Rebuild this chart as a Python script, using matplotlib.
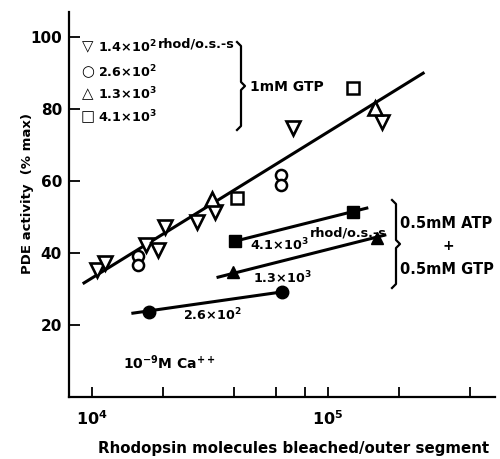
import matplotlib.pyplot as plt
import numpy as np

plt.rcParams['font.family'] = ['DejaVu Sans']
plt.rcParams['font.weight'] = 'bold'
plt.rcParams['mathtext.default'] = 'regular'

# 1mM GTP series (open symbols)
tri_down_x = [1.05e4, 1.135e4, 1.69e4, 1.9e4, 2.04e4, 2.79e4, 3.32e4, 7.1e4, 1.69e5]
tri_down_y = [35.3, 37.2, 42.2, 40.8, 47.2, 48.6, 51.4, 74.7, 76.4]
circle_x = [1.56e4, 1.56e4, 6.3e4, 6.3e4]
circle_y = [39.2, 36.7, 61.7, 58.9]
tri_up_x = [3.22e4, 1.58e5]
tri_up_y = [55.0, 80.3]
square_x = [4.11e4, 1.28e5]
square_y = [55.3, 85.8]
gtp_fit_x = [9.25e3, 2.53e5]
gtp_fit_y = [31.7, 90.0]

# 0.5mM ATP + 0.5mM GTP series (filled symbols)
f_square_x = [4.04e4, 1.28e5]
f_square_y = [43.3, 51.4]
f_square_fit_x = [3.92e4, 1.46e5]
f_square_fit_y = [43.1, 52.5]
f_tri_x = [3.95e4, 1.61e5]
f_tri_y = [34.7, 44.2]
f_tri_fit_x = [3.42e4, 1.74e5]
f_tri_fit_y = [33.3, 45.0]
f_circ_x = [1.75e4, 6.38e4]
f_circ_y = [23.5, 29.2]
f_circ_fit_x = [1.49e4, 6.38e4]
f_circ_fit_y = [23.3, 29.2]

W, H = 500, 459
fig = plt.figure(figsize=(5, 4.59), dpi=100)
ax = fig.add_axes([69 / W, 1 - 397 / H, 426 / W, 385 / H])


def px(x, y):
    return x / W, 1 - y / H


k = 'black'
ax.plot(gtp_fit_x, gtp_fit_y, color=k, lw=2.2)
ax.plot(f_square_fit_x, f_square_fit_y, color=k, lw=2.2)
ax.plot(f_tri_fit_x, f_tri_fit_y, color=k, lw=2.2)
ax.plot(f_circ_fit_x, f_circ_fit_y, color=k, lw=2.2)

ax.plot(tri_down_x, tri_down_y, 'v', ms=9.5, mfc='white', mec=k, mew=1.9)
ax.plot(circle_x, circle_y, 'o', ms=8, mfc='white', mec=k, mew=1.8)
ax.plot(tri_up_x, tri_up_y, '^', ms=9.5, mfc='white', mec=k, mew=1.9)
ax.plot(square_x, square_y, 's', ms=8.5, mfc='white', mec=k, mew=1.8)

ax.plot(f_square_x, f_square_y, 's', ms=9, color=k)
ax.plot(f_tri_x, f_tri_y, '^', ms=9, color=k)
ax.plot(f_circ_x, f_circ_y, 'o', ms=9, color=k)

ax.set_xscale('log')
ax.set_xlim(7.99e3, 5.1e5)
ax.set_ylim(0, 107)
ax.set_xticks([1e4, 2e4, 4e4, 6e4, 8e4, 1e5, 2e5, 4e5])
ax.set_xticklabels(['$10^4$', '', '', '', '', '$10^5$', '', ''])
ax.xaxis.set_minor_locator(plt.NullLocator())
ax.set_yticks([20, 40, 60, 80, 100])
ax.tick_params(axis='x', direction='in', length=7, width=1.3, pad=9, labelsize=11.5)
ax.tick_params(axis='y', direction='in', length=8, width=1.3, pad=5, labelsize=11)
for s in ['top', 'right']:
    ax.spines[s].set_visible(False)
for s in ['left', 'bottom']:
    ax.spines[s].set_linewidth(1.6)

fig.text(*px(28, 193), 'PDE activity  (% max)', rotation=90, ha='center', va='center', fontsize=9.5)
fig.text(*px(294, 449), 'Rhodopsin molecules bleached/outer segment', ha='center', va='center', fontsize=10.8)

# legend block
fs = 9.2
rows = [(47, '\u25bd', '1.4×10$^2$'), (72, '\u25cb', '2.6×10$^2$'),
        (94, '\u25b3', '1.3×10$^3$'), (117, '\u25a1', '4.1×10$^3$')]
for y, sym, lab in rows:
    fig.text(*px(88, y), sym, ha='center', va='center', fontsize=fs + 1.5)
    fig.text(*px(98, y), lab, ha='left', va='center', fontsize=fs)
fig.text(*px(158, 44), 'rhod/o.s.-s', ha='left', va='center', fontsize=fs)
fig.text(*px(250, 87), '1mM GTP', ha='left', va='center', fontsize=10)

fig.text(*px(250, 245), '4.1×10$^3$', ha='left', va='center', fontsize=fs)
fig.text(*px(310, 233), 'rhod/o.s.-s', ha='left', va='center', fontsize=fs)
fig.text(*px(253, 278), '1.3×10$^3$', ha='left', va='center', fontsize=fs)
fig.text(*px(183, 315), '2.6×10$^2$', ha='left', va='center', fontsize=fs)
fig.text(*px(123, 363), '10$^{-9}$M Ca$^{++}$', ha='left', va='center', fontsize=10)

fig.text(*px(400, 223), '0.5mM ATP', ha='left', va='center', fontsize=10.5)
fig.text(*px(448, 246), '+', ha='center', va='center', fontsize=10)
fig.text(*px(400, 269), '0.5mM GTP', ha='left', va='center', fontsize=10.5)


def brace(x, top, bot, w=4):
    mid = (top + bot) / 2
    xs = [x - w, x, x, x + w, x, x, x - w]
    ys = [top, top + w, mid - w, mid, mid + w, bot - w, bot]
    fx = np.array(xs) / W
    fy = 1 - np.array(ys) / H
    fig.add_artist(plt.Line2D(fx, fy, color=k, lw=1.6, transform=fig.transFigure))


brace(241, 42, 130)
brace(396, 200, 288)

fig.savefig('out.png', dpi=100)
